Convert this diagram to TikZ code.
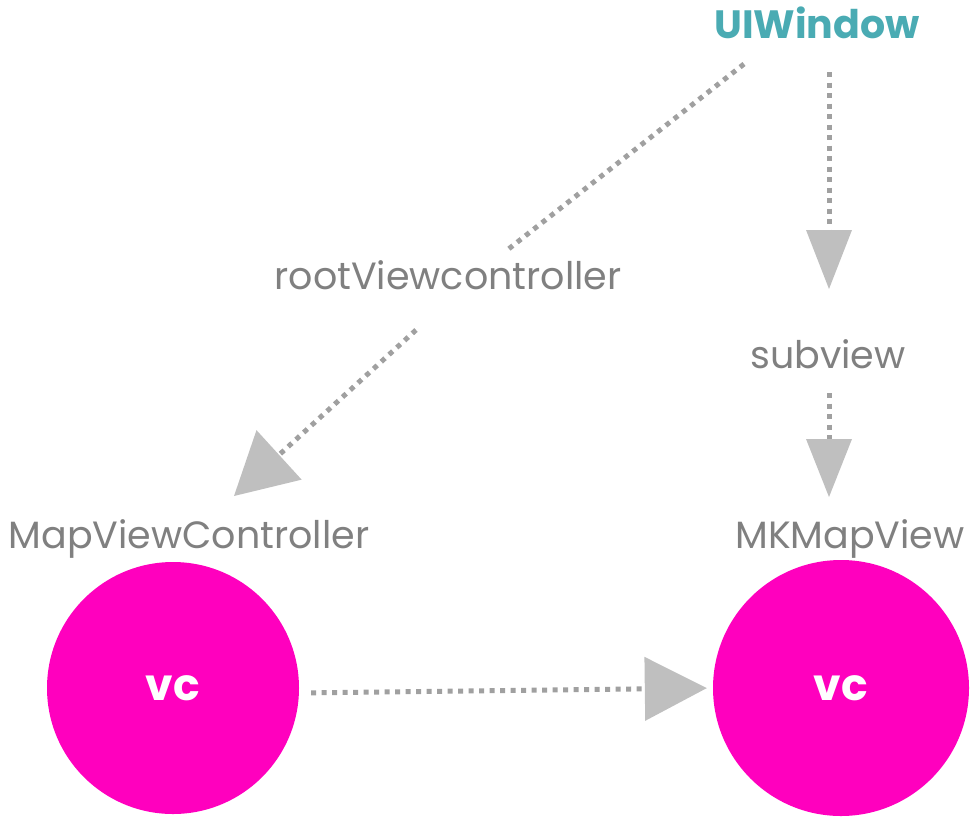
\documentclass[tikz,border=0pt]{standalone}
\usepackage{fontspec}
\setmainfont{Poppins}
\usetikzlibrary{arrows.meta}
\definecolor{uiteal}{HTML}{4AABB3}
\definecolor{lblgray}{HTML}{808080}
\definecolor{dotgray}{HTML}{A0A0A0}
\definecolor{tipgray}{HTML}{BFBFBF}
\definecolor{vcpink}{HTML}{FF00BE}
\tikzset{
  lbl/.style={text=lblgray, font=\fontsize{38}{42}\selectfont, inner sep=0pt},
  title/.style={text=uiteal, font=\fontsize{39.5}{44}\selectfont\bfseries, inner sep=0pt},
  circ/.style={circle, fill=vcpink, text=white, inner sep=0pt, font=\fontsize{44}{48}\selectfont\bfseries},
  dots/.style={draw=dotgray, line width=5pt, dash pattern=on 5pt off 5.5pt},
  tip/.style n args={2}{-{Triangle[length=#1,width=#2,color=tipgray,line width=0pt]}}
}
\begin{document}
\begin{tikzpicture}[x=1pt,y=-1pt]
\useasboundingbox (0,0) rectangle (973,816);
\node[title] (uiw) at (817,23) {UIWindow};
\node[lbl] (root) at (448,275) {rootViewcontroller};
\node[lbl] (sub) at (828,354) {subview};
\node[lbl] (mvc) at (189,539) {MapViewController};
\node[lbl] (mkv) at (850,539) {MKMapView};
\node[circ, minimum size=252pt] (vc1) at (173,688) {vc};
\node[circ, minimum size=256pt] (vc2) at (841,688) {vc};
\coordinate (c1s) at (744,64);
\coordinate (c1e) at (506,251);
\coordinate (c2s) at (416,330);
\coordinate (c2e) at (234,496);
\coordinate (c3s) at (829,72);
\coordinate (c3e) at (829,289);
\coordinate (c4s) at (829,393);
\coordinate (c4e) at (829,497);
\draw[dots] (c1s) -- (c1e);
\draw[dots, tip={61pt}{67pt}] (c2s) -- (c2e);
\draw[dots, tip={59pt}{46pt}] (c3s) -- (c3e);
\draw[dots, tip={58pt}{46pt}] (c4s) -- (c4e);
\draw[dots, tip={62pt}{64pt}, shorten <=12pt, shorten >=6pt] ([yshift=-5pt]vc1.east) -- (vc2.west);
\end{tikzpicture}
\end{document}
